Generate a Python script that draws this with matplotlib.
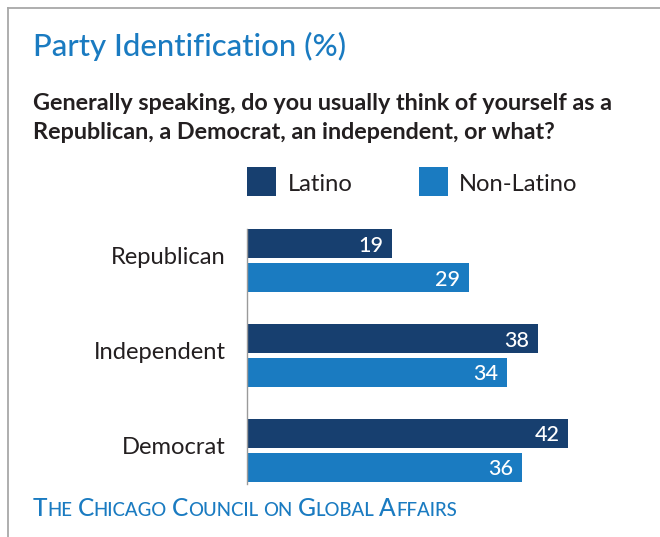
import matplotlib
matplotlib.use("Agg")
import matplotlib.pyplot as plt
from matplotlib.patches import Rectangle
from matplotlib.lines import Line2D
import matplotlib.transforms as mtransforms

# ---------------- data ----------------
categories = ["Republican", "Independent", "Democrat"]
latino = [19, 38, 42]
non_latino = [29, 34, 36]
series_names = ["Latino", "Non-Latino"]
title = "Party Identification (%)"
subtitle_lines = ["Generally speaking, do you usually think of yourself as a",
                  "Republican, a Democrat, an independent, or what?"]
footer_words = ["The", "Chicago", "Council", "on", "Global", "Affairs"]

# ---------------- style ----------------
W, H, DPI = 660, 537, 100
DARK = "#173f6f"
LIGHT = "#1a7bc1"
TEXT = "#231f20"
FRAME = "#a8a8a8"
FONT = "Lato"
plt.rcParams['font.family'] = [FONT, 'DejaVu Sans']

fig = plt.figure(figsize=(W / DPI, H / DPI), dpi=DPI)
fig.patch.set_facecolor("white")
renderer = fig.canvas.get_renderer()


def fx(x):
    return x / W


def fy(y):
    return 1 - y / H


def text_width(s, fs, weight="normal"):
    t = fig.text(0, 0, s, fontsize=fs, fontweight=weight)
    w = t.get_window_extent(renderer).width
    t.remove()
    return w


def fit_size(s, target_w, weight="normal"):
    return 14 * target_w / text_width(s, 14, weight)


# frame
fig.add_artist(Line2D([fx(8), fx(8)], [fy(7.5), 0], transform=fig.transFigure,
                      color=FRAME, lw=1.3))
fig.add_artist(Line2D([fx(8), 1], [fy(7.5), fy(7.5)], transform=fig.transFigure,
                      color=FRAME, lw=1.3))

# title
fig.text(fx(33), fy(56), title, fontsize=fit_size(title, 315, "medium"),
         fontweight="medium", color=LIGHT, va="baseline", ha="left")

# subtitle
sub_fs = fit_size(subtitle_lines[0], 584, "bold")
for line, base in zip(subtitle_lines, [110, 139]):
    fig.text(fx(33), fy(base), line, fontsize=sub_fs, fontweight="bold",
             color=TEXT, va="baseline", ha="left")

# legend
label_fs = fit_size("Independent", 133)
for name, color, x0, tx in zip(series_names, [DARK, LIGHT], [247, 419], [288, 459]):
    fig.add_artist(Rectangle((fx(x0), fy(196)), 29 / W, 29 / H,
                             transform=fig.transFigure, color=color, lw=0))
    fig.text(fx(tx), fy(191), name, fontsize=label_fs, color=TEXT,
             va="baseline", ha="left")

# axes with bars
ax = fig.add_axes([fx(247), fy(484), 382.5 / W, 255 / H])
ax.set_xlim(0, 50)
ax.set_ylim(2.353, -0.332)
ypos = list(range(len(categories)))
off, bh = 17 / 95, 29 / 95
ax.barh([y - off for y in ypos], latino, height=bh, color=DARK, lw=0)
ax.barh([y + off for y in ypos], non_latino, height=bh, color=LIGHT, lw=0)

val_fs = 15.5
for y, v in zip(ypos, latino):
    ax.annotate(str(v), xy=(v, y - off), xytext=(-9, 0), textcoords="offset pixels",
                ha="right", va="center_baseline", color="white", fontsize=val_fs,
                fontweight="medium")
for y, v in zip(ypos, non_latino):
    ax.annotate(str(v), xy=(v, y + off), xytext=(-9, 0), textcoords="offset pixels",
                ha="right", va="center_baseline", color="white", fontsize=val_fs,
                fontweight="medium")

ax.set_yticks(ypos)
ax.set_yticklabels(categories, fontsize=label_fs, color=TEXT)
ax.tick_params(axis="y", length=0, pad=21 * 72 / DPI)
ax.set_xticks([])
shift = mtransforms.ScaledTranslation(0, 5 / DPI, fig.dpi_scale_trans)
for lbl in ax.get_yticklabels():
    lbl.set_verticalalignment("center_baseline")
    lbl.set_transform(lbl.get_transform() + shift)
for s in ["top", "right", "bottom"]:
    ax.spines[s].set_visible(False)
ax.spines["left"].set_color("#9a9a9a")
ax.spines["left"].set_linewidth(1.0)
ax.patch.set_alpha(0)

# footer in small caps
big_fs0 = 14
ratio = 0.76


def layout_footer(big_fs, draw=False):
    x = 33.0
    gap = text_width("A A", big_fs) - text_width("AA", big_fs)
    for i, word in enumerate(footer_words):
        if word[0].isupper():
            pieces = [(word[0], big_fs), (word[1:].upper(), big_fs * ratio)]
        else:
            pieces = [(word.upper(), big_fs * ratio)]
        for s, fs in pieces:
            w = text_width(s, fs, "medium")
            if draw:
                fig.text(fx(x), fy(516), s, fontsize=fs, color=LIGHT,
                         fontweight="medium", va="baseline", ha="left")
            x += w
        if i < len(footer_words) - 1:
            x += gap * 0.8
    return x - 33


total = layout_footer(big_fs0)
big_fs = big_fs0 * 422 / total
layout_footer(big_fs, draw=True)

fig.savefig("out.png", dpi=DPI, facecolor="white")
